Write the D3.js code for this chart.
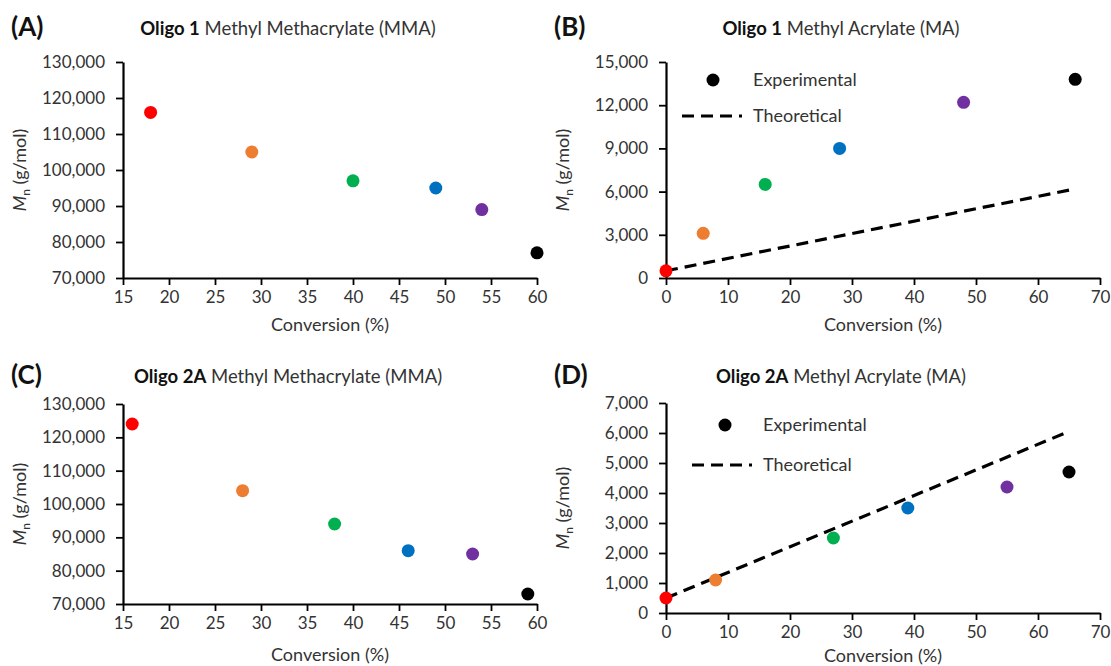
<!DOCTYPE html>
<html>
<head>
<meta charset="utf-8">
<script src="https://cdn.jsdelivr.net/npm/d3@7"></script>
<style>
  body { margin: 0; background: #fff; }
  svg { display: block; font-family: Lato, "Liberation Sans", sans-serif; }
</style>
</head>
<body>
<svg id="chart" width="1111" height="666"></svg>
<script>
// point colours, same order in every panel
const pointColors = ['#ff0000', '#ed7d31', '#00b050', '#0070c0', '#7030a0', '#000000'];

// (A) Oligo 1 MMA
const convA = [18, 29, 40, 49, 54, 60];
const mnA = [116000, 105000, 97000, 95000, 89000, 77000];
// (B) Oligo 1 MA
const convB = [0, 6, 16, 28, 48, 66];
const mnB = [500, 3100, 6500, 9000, 12200, 13800];
const theoConvB = [0, 65];
const theoMnB = [500, 6100];
// (C) Oligo 2A MMA
const convC = [16, 28, 38, 46, 53, 59];
const mnC = [124000, 104000, 94000, 86000, 85000, 73000];
// (D) Oligo 2A MA
const convD = [0, 8, 27, 39, 55, 65];
const mnD = [500, 1100, 2500, 3500, 4200, 4700];
const theoConvD = [0, 65];
const theoMnD = [500, 6050];

const xTicksMMA = [15, 20, 25, 30, 35, 40, 45, 50, 55, 60];
const xTicksMA = [0, 10, 20, 30, 40, 50, 60, 70];
const yTicksMMA = [70000, 80000, 90000, 100000, 110000, 120000, 130000];
const yTicksB = [0, 3000, 6000, 9000, 12000, 15000];
const yTicksD = [0, 1000, 2000, 3000, 4000, 5000, 6000, 7000];

const panels = [
    { tag: '(A)', bold: 'Oligo 1', rest: ' Methyl Methacrylate (MMA)', box: { l: 123, r: 537, t: 62, b: 278 },
      xDom: [15, 60], xTicks: xTicksMMA, yDom: [70000, 130000], yTicks: yTicksMMA,
      conv: convA, mn: mnA, titleY: 35, tagY: 36, labelY: 331 },
    { tag: '(B)', bold: 'Oligo 1', rest: ' Methyl Acrylate (MA)', box: { l: 666, r: 1100, t: 62, b: 278 },
      xDom: [0, 70], xTicks: xTicksMA, yDom: [0, 15000], yTicks: yTicksB,
      conv: convB, mn: mnB, theo: [theoConvB, theoMnB], titleY: 35, tagY: 36, labelY: 331,
      legend: { dotX: 713, y1: 80, lineX: [682, 742], y2: 116, textX: 753 } },
    { tag: '(C)', bold: 'Oligo 2A', rest: ' Methyl Methacrylate (MMA)', box: { l: 123, r: 537, t: 404, b: 604 },
      xDom: [15, 60], xTicks: xTicksMMA, yDom: [70000, 130000], yTicks: yTicksMMA,
      conv: convC, mn: mnC, titleY: 383, tagY: 384, labelY: 661 },
    { tag: '(D)', bold: 'Oligo 2A', rest: ' Methyl Acrylate (MA)', box: { l: 666, r: 1100, t: 403, b: 613 },
      xDom: [0, 70], xTicks: xTicksMA, yDom: [0, 7000], yTicks: yTicksD,
      conv: convD, mn: mnD, theo: [theoConvD, theoMnD], titleY: 383, tagY: 384, labelY: 662,
      legend: { dotX: 725, y1: 425, lineX: [692, 752], y2: 465, textX: 763 } }
];

const svg = d3.select('#chart');
const fmt = d3.format(',');
const ink = '#333';

panels.forEach(p => {
    const g = svg.append('g');
    const x = d3.scaleLinear().domain(p.xDom).range([p.box.l, p.box.r]);
    const y = d3.scaleLinear().domain(p.yDom).range([p.box.b, p.box.t]);
    const cx = (p.box.l + p.box.r) / 2;

    // panel tag and title
    g.append('text').attr('x', p.box.l - 112).attr('y', p.tagY)
        .attr('font-size', 26).attr('font-weight', 'bold').attr('fill', '#111').text(p.tag);
    const title = g.append('text').attr('x', cx - 42).attr('y', p.titleY)
        .attr('text-anchor', 'middle').attr('font-size', 18.5).attr('fill', '#111');
    title.append('tspan').attr('font-weight', 'bold').text(p.bold);
    title.append('tspan').attr('fill', ink).text(p.rest);

    // axes
    const xAxis = g.append('g').attr('transform', `translate(0,${p.box.b})`)
        .call(d3.axisBottom(x).tickValues(p.xTicks).tickSize(7).tickSizeOuter(0).tickPadding(6));
    const yAxis = g.append('g').attr('transform', `translate(${p.box.l},0)`)
        .call(d3.axisLeft(y).tickValues(p.yTicks).tickFormat(fmt).tickSize(7).tickSizeOuter(0).tickPadding(11));
    [xAxis, yAxis].forEach(a => {
        a.select('.domain').attr('stroke', '#000').attr('stroke-width', 2.2);
        a.selectAll('.tick line').attr('stroke', '#000').attr('stroke-width', 1.8);
        a.selectAll('.tick text').attr('font-size', 17).attr('fill', ink)
            .attr('font-family', 'Lato, "Liberation Sans", sans-serif');
    });

    // axis titles
    g.append('text').attr('x', cx).attr('y', p.labelY).attr('text-anchor', 'middle')
        .attr('font-size', 18).attr('fill', ink).text('Conversion (%)');
    const yl = g.append('text')
        .attr('transform', `translate(${p.box.l - 97},${(p.box.t + p.box.b) / 2}) rotate(-90)`)
        .attr('text-anchor', 'middle').attr('font-size', 18).attr('fill', ink);
    yl.append('tspan').attr('font-style', 'italic').text('M');
    yl.append('tspan').attr('font-size', 12).attr('dy', 4).text('n');
    yl.append('tspan').attr('dy', -4).text(' (g/mol)');

    // theoretical line
    if (p.theo) {
        const pts = p.theo[0].map((c, i) => [c, p.theo[1][i]]);
        g.append('path').datum(pts)
            .attr('d', d3.line().x(d => x(d[0])).y(d => y(d[1])))
            .attr('fill', 'none').attr('stroke', '#000').attr('stroke-width', 3.2)
            .attr('stroke-dasharray', '12,7');
    }

    // points
    const data = p.conv.map((c, i) => ({ c, m: p.mn[i], col: pointColors[i] }));
    g.selectAll('.pt').data(data).enter().append('circle')
        .attr('class', 'pt')
        .attr('cx', d => x(d.c)).attr('cy', d => y(d.m))
        .attr('r', 6.5).attr('fill', d => d.col);

    // legend
    if (p.legend) {
        const L = p.legend;
        g.append('circle').attr('cx', L.dotX).attr('cy', L.y1).attr('r', 6.5).attr('fill', '#000');
        g.append('text').attr('x', L.textX).attr('y', L.y1 + 6).attr('font-size', 18).attr('fill', ink).text('Experimental');
        g.append('line').attr('x1', L.lineX[0]).attr('x2', L.lineX[1]).attr('y1', L.y2).attr('y2', L.y2)
            .attr('stroke', '#000').attr('stroke-width', 3.2).attr('stroke-dasharray', '12,7');
        g.append('text').attr('x', L.textX).attr('y', L.y2 + 6).attr('font-size', 18).attr('fill', ink).text('Theoretical');
    }
});
</script>
</body>
</html>
